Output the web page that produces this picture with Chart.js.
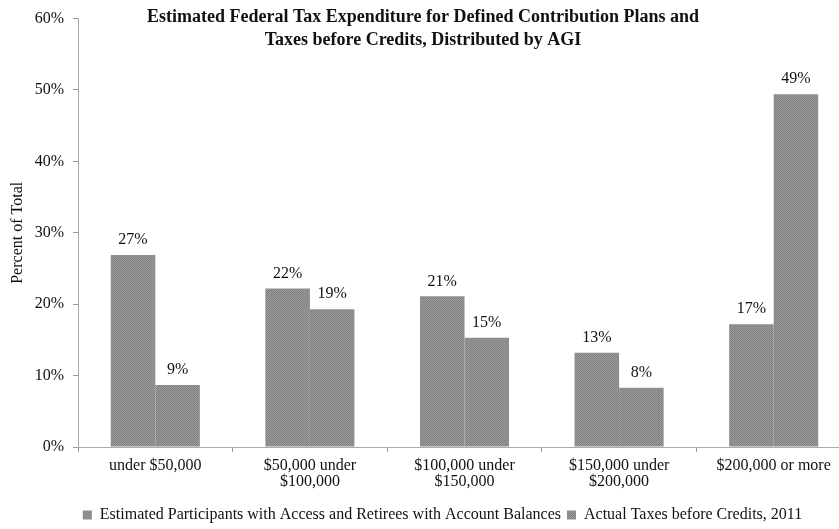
<!DOCTYPE html>
<html>
<head>
<meta charset="utf-8">
<script src="https://cdn.jsdelivr.net/npm/chart.js@4.4.1/dist/chart.umd.min.js"></script>
<style>
  html, body { margin: 0; padding: 0; background: #fff; overflow: hidden; }
  #wrap { width: 839px; height: 529px; overflow: hidden; }
</style>
</head>
<body>
<div id="wrap"><canvas id="taxChart" width="851" height="529"></canvas></div>
<script>
// 데이터
const categories = [['under $50,000'], ['$50,000 under', '$100,000'], ['$100,000 under', '$150,000'], ['$150,000 under', '$200,000'], ['$200,000 or more']];
const participants = [26.9, 22.2, 21.1, 13.2, 17.2];
const taxesBeforeCredits = [8.7, 19.3, 15.3, 8.3, 49.4];
const yTicks = [0, 10, 20, 30, 40, 50, 60];
const titleLines = ['Estimated Federal Tax Expenditure for Defined Contribution Plans and', 'Taxes before Credits, Distributed by AGI'];

const serif = '"Liberation Serif", "Times New Roman", serif';

// 스캔 느낌 회색 패턴 (고정 배열)
let makeGrain = () => {
    const shades = [
        [0x80, 0x9a, 0x86, 0x94],
        [0x96, 0x84, 0x9c, 0x82],
        [0x88, 0x98, 0x7e, 0x92],
        [0x9a, 0x86, 0x90, 0x8a]
    ];
    const c = document.createElement('canvas');
    c.width = 4; c.height = 4;
    const g = c.getContext('2d');
    shades.forEach((row, y) => row.forEach((v, x) => {
        g.fillStyle = 'rgb(' + v + ',' + v + ',' + v + ')';
        g.fillRect(x, y, 1, 1);
    }));
    return g.createPattern(c, 'repeat');
};
const barFill = makeGrain();

// 막대 위 라벨 + 제목
const labelPlugin = {
    id: 'labelPlugin',
    afterLayout(chart) {
        // 범례 위치 보정
        chart.legend.left += 17;
        chart.legend.right += 17;
        chart.legend.top += 4;
        chart.legend.bottom += 4;
    },
    afterDatasetsDraw(chart) {
        const ctx = chart.ctx;
        ctx.save();
        ctx.fillStyle = '#111';
        ctx.font = '16px ' + serif;
        ctx.textAlign = 'center';
        ctx.textBaseline = 'middle';
        chart.data.datasets.forEach((ds, i) => {
            chart.getDatasetMeta(i).data.forEach((bar, j) => {
                ctx.fillText(Math.round(ds.data[j]) + '%', bar.x, bar.y - 15);
            });
        });
        ctx.font = 'bold 18px ' + serif;
        const cx = 423;
        titleLines.forEach((t, k) => ctx.fillText(t, cx, 17 + k * 23));
        ctx.restore();
    }
};

let taxChart = new Chart(document.getElementById('taxChart'), {
    type: 'bar',
    data: {
        labels: categories,
        datasets: [{
            label: 'Estimated Participants with Access and Retirees with Account Balances',
            data: participants,
            backgroundColor: barFill
        }, {
            label: 'Actual Taxes before Credits, 2011',
            data: taxesBeforeCredits,
            backgroundColor: barFill
        }]
    },
    options: {
        responsive: false,
        animation: { duration: 0 },
        layout: { padding: { top: 15, right: 0, left: 0, bottom: 0 } },
        datasets: { bar: { categoryPercentage: 0.576, barPercentage: 1.0 } },
        plugins: {
            legend: {
                position: 'bottom',
                labels: {
                    boxWidth: 9, boxHeight: 9, padding: 6,
                    color: '#111',
                    font: { family: serif, size: 16 }
                }
            },
            tooltip: { enabled: false }
        },
        scales: {
            y: {
                min: 0, max: 60,
                afterFit: (axis) => { axis.width = 78; },
                afterBuildTicks: (axis) => { axis.ticks = yTicks.map(v => ({ value: v })); },
                ticks: {
                    callback: (v) => v + '%',
                    color: '#111',
                    font: { family: serif, size: 16 },
                    padding: 9
                },
                grid: { drawOnChartArea: false, tickLength: 5, color: '#999' },
                border: { color: '#aaa', dash: [1, 1] },
                title: {
                    display: true, text: 'Percent of Total', color: '#111',
                    font: { family: serif, size: 16 }, padding: { top: 8, bottom: 0 }
                }
            },
            x: {
                afterFit: (axis) => { axis.height = 50; },
                ticks: {
                    color: '#111',
                    font: { family: serif, size: 16, lineHeight: 1.05 },
                    padding: 5
                },
                grid: { drawOnChartArea: false, tickLength: 5, offset: true, color: '#999' },
                border: { color: '#aaa', dash: [1, 1] }
            }
        }
    },
    plugins: [labelPlugin]
});
</script>
</body>
</html>
